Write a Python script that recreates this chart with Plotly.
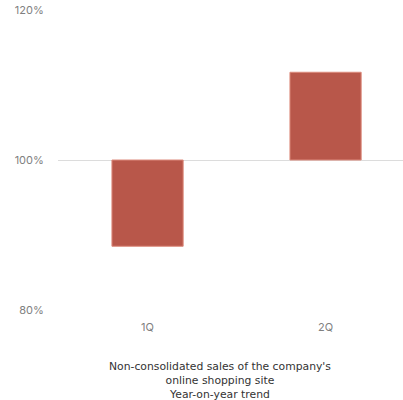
import plotly.graph_objects as go

categories = ["1Q", "2Q"]
yoy_percent = [88.5, 111.7]
baseline = 100
y_ticks = [80, 100, 120]
y_tick_labels = ["80%", "100%", "120%"]
title_lines = ["Non-consolidated sales of the company's", "online shopping site", "Year-on-year trend"]

fig = go.Figure()
fig.add_trace(go.Bar(
    x=categories,
    y=[v - baseline for v in yoy_percent],
    base=[baseline] * len(categories),
    width=0.4,
    marker=dict(color="#b8574a", line=dict(color="#dc8a7c", width=1)),
    hoverinfo="skip",
))

fig.update_layout(
    width=403, height=400,
    margin=dict(l=58, r=0, t=10, b=90),
    paper_bgcolor="white", plot_bgcolor="white",
    showlegend=False,
    font=dict(family="Inter, sans-serif", size=11, color="#8a8a8a"),
    xaxis=dict(range=[-0.503, 1.435], showgrid=False, showline=False, zeroline=False,
               ticks="outside", ticklen=7, tickcolor="rgba(0,0,0,0)",
               tickfont=dict(size=11, color="#808080")),
    yaxis=dict(range=[80, 120], tickvals=y_ticks, ticktext=y_tick_labels,
               showgrid=True, gridcolor="#dcdcdc", gridwidth=1, zeroline=False,
               showline=False, ticks="outside", ticklen=11, tickcolor="rgba(0,0,0,0)",
               tickfont=dict(size=11, color="#808080")),
    annotations=[dict(
        text="<br>".join(title_lines), xref="paper", yref="paper",
        x=(220 - 58) / 345, y=(310 - 380) / 300, xanchor="center", yanchor="middle",
        showarrow=False, align="center", borderpad=0,
        font=dict(family="DejaVu Sans, sans-serif", size=10.8, color="#333333"),
    )],
)

fig.write_html("out.html")
